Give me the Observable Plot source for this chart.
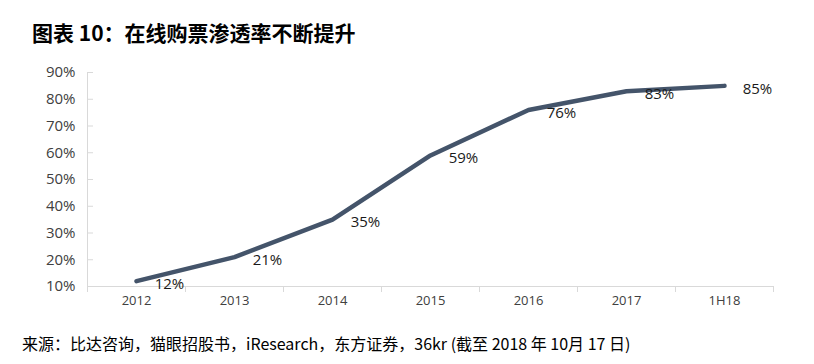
<!DOCTYPE html>
<html><head><meta charset="utf-8">
<script src="https://cdn.jsdelivr.net/npm/d3@7"></script>
<script src="https://cdn.jsdelivr.net/npm/@observablehq/plot@0.6"></script>
<style>
body{margin:0;background:#fff;width:814px;height:364px;overflow:hidden;font-family:"Noto Sans CJK SC",sans-serif}
#title{height:60px;box-sizing:border-box;padding-left:32px;padding-top:18px;font-size:21px;font-weight:bold;line-height:28px;color:#000}
#foot{padding-left:22px;font-size:16px;line-height:20px;color:#000;margin-top:11px;white-space:nowrap}
svg{display:block}
</style></head>
<body>
<div id="title">图表 10：在线购票渗透率不断提升</div>
<div id="chart"></div>
<div id="foot">来源：比达咨询，猫眼招股书，iResearch，东方证券，36kr (截至 2018 年 10月 17 日)</div>
<script>
const categories = ["2012", "2013", "2014", "2015", "2016", "2017", "1H18"];
const values = [12, 21, 35, 59, 76, 83, 85];
const yTicks = [10, 20, 30, 40, 50, 60, 70, 80, 90];

const data = categories.map((c, i) => ({i, c, v: values[i]}));
const n = categories.length;

const chart = Plot.plot({
  width: 814, height: 262,
  marginTop: 12, marginBottom: 36, marginLeft: 87, marginRight: 41,
  style: {fontFamily: "'Open Sans', sans-serif", background: "#fff"},
  x: {domain: [-0.5, n - 0.5], label: null},
  y: {domain: [10, 90], label: null},
  marks: [
    Plot.ruleY([10], {stroke: "#d9d9d9"}),
    Plot.ruleX([-0.5], {stroke: "#d9d9d9"}),
    Plot.axisX({ticks: d3.range(-0.5, n), tickSize: 6, text: null, label: null, stroke: "#d9d9d9"}),
    Plot.axisX({ticks: d3.range(n), tickSize: 0, tickPadding: 9, label: null, tickFormat: i => categories[i], fontSize: 13, fill: "#404040"}),
    Plot.axisY({ticks: yTicks, tickSize: -6, text: null, label: null, stroke: "#d9d9d9"}),
    Plot.axisY({ticks: yTicks, tickSize: 0, tickPadding: 12, label: null, tickFormat: d => d + "%", fontSize: 15, fill: "#404040"}),
    Plot.line(data, {x: "i", y: "v", stroke: "#44546a", strokeWidth: 4.5}),
    Plot.text(data, {x: "i", y: "v", text: d => d.v + "%", dx: 33, dy: 3, fontSize: 15, fill: "#1a1a1a"})
  ]
});
document.getElementById("chart").appendChild(chart);
</script>
</body></html>
